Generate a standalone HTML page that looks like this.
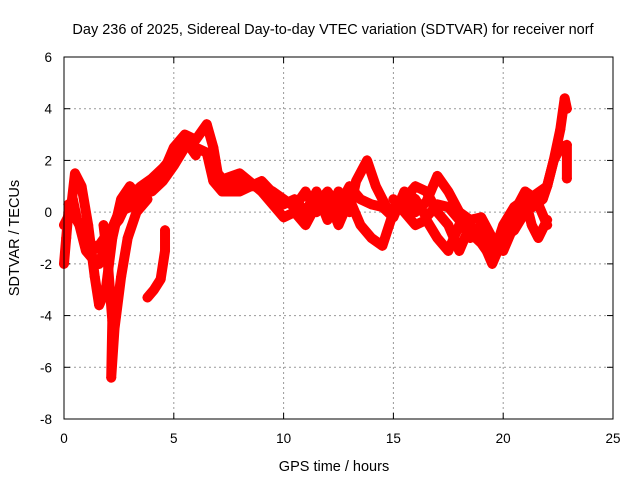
<!DOCTYPE html>
<html><head><meta charset="utf-8"><style>
body{margin:0;background:#fff}
svg{display:block;font-family:"Liberation Sans",sans-serif}
</style></head><body>
<svg id="chart" width="640" height="480">
<rect width="640" height="480" fill="#fff"/>
<text x="333" y="34" text-anchor="middle" font-size="14.5">Day 236 of 2025, Sidereal Day-to-day VTEC variation (SDTVAR) for receiver norf</text>
<text x="334" y="471" text-anchor="middle" font-size="14.5">GPS time / hours</text>
<text transform="translate(19,238) rotate(-90)" text-anchor="middle" font-size="14.5">SDTVAR / TECUs</text>
<g id="grid"></g>
<g id="ticks"></g>
<g id="series"></g>
<rect x="64" y="57" width="549" height="362" fill="none" stroke="#000" stroke-width="1"/>
</svg>
<script>
const xTicks=[0,5,10,15,20,25];
const yTicks=[-8,-6,-4,-2,0,2,4,6];
const seriesA=[[0,-0.5],[0.3,0],[0.5,1.5],[0.8,1],[1.1,-0.5],[1.4,-2.5],[1.6,-3.6],[1.9,-3],[2.2,-1],[2.6,0.5],[3,1],[3.5,0.5],[4,1],[4.5,1.5],[5,2.5],[5.5,3],[6,2.8],[6.5,3.4],[6.8,2.5],[7,1.5],[7.5,1],[8,1.2],[8.5,1],[9,1],[9.5,0.8],[10,0.5],[10.5,0.2],[11,0.8],[11.5,0],[12,0.6],[12.5,-0.5],[13,0.5],[13.5,-0.5],[14,-1],[14.5,-1.3],[15,0],[15.5,0.5],[16,1],[16.5,0.8],[17,0],[17.5,-0.5],[18,-1.5],[18.5,-0.5],[19,-1],[19.5,-2],[20,-1],[20.5,0],[21,0.8],[21.5,0.5],[22,-0.5]];
const seriesB=[[0.2,0.3],[0.7,-0.5],[1,-1.5],[1.3,-1.8],[1.6,-2],[2,-1],[2.5,0],[3,0.2],[3.5,0.8],[4,0.8],[4.5,1.2],[5,1.8],[5.5,2.5],[6,2.5],[6.5,2.3],[6.8,1.2],[7.2,0.8],[8,0.8],[9,1.2],[10,0.3],[10.5,0.5],[11,0],[11.5,0.8],[12,-0.3],[12.5,0.8],[13,0],[13.3,1.2],[13.8,2],[14.2,1],[14.8,0],[15.5,0.6],[16,0],[16.5,0.4],[17,1.4],[17.5,0.8],[18,0],[18.5,-0.3],[19,-0.2],[19.5,-1],[20,-1.5],[20.5,-0.5],[21,0.3],[21.5,0.7],[22,1],[22.3,2],[22.6,3.2],[22.8,4.4],[22.9,4]];
const seriesC=[[1.8,-0.5],[2.0,-2],[2.2,-4.2],[2.15,-6.4],[2.3,-4.5],[2.6,-2.5],[2.9,-1],[3.3,0],[3.8,0.5]];
const seriesD=[[3.8,-3.3],[4.1,-3],[4.4,-2.6],[4.6,-1.5],[4.6,-0.7]];
const seriesE=[[20,-1],[20.5,-0.7],[21,0],[21.5,0.3],[21.8,0.5],[22,1],[22.3,2],[22.6,2.5],[22.9,2.6],[22.9,1.3]];
const seriesF=[[15,0.5],[15.5,0],[16,-0.5],[16.5,-0.3],[17,-1],[17.5,-1.5],[18,-0.5],[18.5,-0.8],[19,-1.2],[19.5,-1.8],[20,-0.5],[20.5,0.2],[21,0.5],[21.3,-0.5],[21.6,-1],[22,-0.3]];
const seriesG=[[0,-2],[0.1,-1],[0.2,0],[0.4,0.5],[0.6,-0.3],[1,-0.8]];
const seriesH=[[7,1.2],[8,1.5],[9,0.8],[10,-0.2],[10.5,0],[11,-0.5],[11.5,0.3],[12,0.8],[12.5,0.2],[13,1],[13.5,0.5],[14,0.3],[14.5,0.2],[15,-0.2],[15.5,0.8],[16,0.5],[16.5,-0.2],[17,0.3],[17.5,0.2],[18,-0.3],[18.5,-1],[19,-0.5],[19.5,-1.2]];
const seriesI=[[1.2,-1.2],[1.5,-1.4],[2,-0.8],[2.5,-0.3],[3,0.6],[3.5,1],[4,1.3],[4.5,1.7],[5,2.2],[5.5,2.8],[6,2.2]];
const allSeries=[seriesA,seriesB,seriesC,seriesD,seriesE,seriesF,seriesG,seriesH,seriesI];
const NS="http://www.w3.org/2000/svg";
const X0=64,X1=613,Y0=419,Y1=57;
function xs(h){return X0+(h-0)/(25-0)*(X1-X0);}
function ys(v){return Y0-(v+8)/(14)*(Y0-Y1);}
const grid=document.getElementById('grid'),ticks=document.getElementById('ticks'),sg=document.getElementById('series');
function mk(tag,attrs,parent){const e=document.createElementNS(NS,tag);for(const k in attrs)e.setAttribute(k,attrs[k]);parent.appendChild(e);return e;}
xTicks.forEach(t=>{const x=xs(t);
 if(t>0&&t<25){const g=mk('line',{x1:x,x2:x,y1:Y1,y2:Y0,stroke:'#999','stroke-dasharray':'2,3'},grid);
 
 }
 mk('line',{x1:x,x2:x,y1:Y0,y2:Y0-6,stroke:'#000'},ticks);
 mk('line',{x1:x,x2:x,y1:Y1,y2:Y1+6,stroke:'#000'},ticks);
 const l=mk('text',{x:x,y:443,'text-anchor':'middle','font-size':'13.5'},ticks);l.textContent=t;
 
 });
yTicks.forEach(t=>{const y=ys(t);
 if(t>-8&&t<6){const g=mk('line',{x1:X0,x2:X1,y1:y,y2:y,stroke:'#999','stroke-dasharray':'2,3'},grid);
 
 }
 mk('line',{x1:X0,x2:X0+6,y1:y,y2:y,stroke:'#000'},ticks);
 mk('line',{x1:X1,x2:X1-6,y1:y,y2:y,stroke:'#000'},ticks);
 const l=mk('text',{x:52,y:y+5,'text-anchor':'end','font-size':'13.5'},ticks);l.textContent=t;
 
 });
allSeries.forEach((s,i)=>{
 const pts=s.map(p=>xs(p[0])+','+ys(p[1])).join(' ');
 const pl=mk('polyline',{points:pts,fill:'none',stroke:'#f00','stroke-width':10,'stroke-linejoin':'round','stroke-linecap':'round'},sg);
 
 
 s.forEach(p=>{const x=xs(p[0]),y=ys(p[1]);
  const m=mk('path',{d:`M${x-5},${y}h10M${x},${y-5}v10`,stroke:'#f00','stroke-width':1.5},sg);
  
  });
});
</script>
</body></html>
